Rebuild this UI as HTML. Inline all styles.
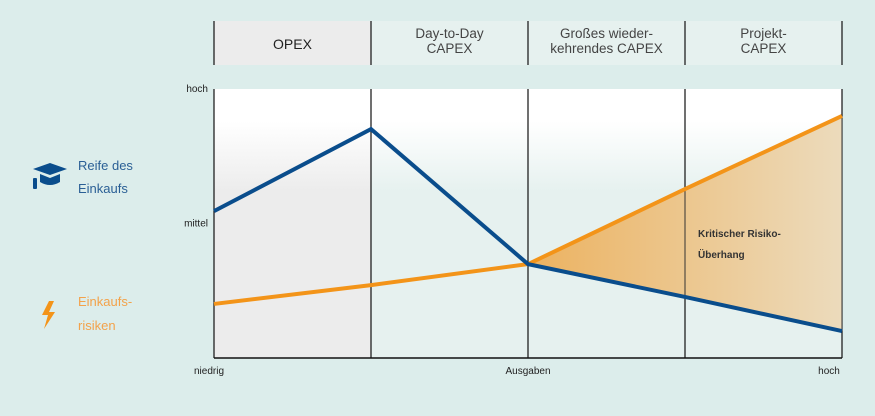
<!DOCTYPE html>
<html><head><meta charset="utf-8"><style>
html,body{margin:0;padding:0;background:#dcedeb;}
body{width:875px;height:411px;overflow:hidden;font-family:"Liberation Sans",sans-serif;}
</style></head><body>
<svg id="c" width="875" height="411" xmlns="http://www.w3.org/2000/svg">
<defs>
<linearGradient id="gw" x1="0" y1="0" x2="0" y2="1"><stop offset="0" stop-color="#fff"/><stop offset="0.12" stop-color="#fff"/><stop offset="0.38" stop-color="#e6f1ef"/><stop offset="1" stop-color="#e6f1ef"/></linearGradient>
<linearGradient id="gg" x1="0" y1="0" x2="0" y2="1"><stop offset="0" stop-color="#fff"/><stop offset="0.12" stop-color="#fff"/><stop offset="0.38" stop-color="#ececec"/><stop offset="1" stop-color="#ececec"/></linearGradient>
<linearGradient id="go" x1="0" y1="0" x2="1" y2="0"><stop offset="0" stop-color="#ecb260"/><stop offset="1" stop-color="#ecdbbc"/></linearGradient>
</defs>
<g id="frame"></g>
<g id="marks"></g>
<g>
<g fill="#0a4d8c">
<polygon points="33,169 50,163 67,169 50,175"/>
<path d="M40,174 L40,182 Q50,188 60,182 L60,174 L50,178 Z"/>
<rect x="33" y="178" width="4" height="11" rx="1"/>
</g>
<text x="78" y="170" font-size="13" fill="#2a5f95">Reife des</text>
<text x="78" y="193" font-size="13" fill="#2a5f95">Einkaufs</text>
<polygon fill="#f39419" points="49,301 42,315 48,315 44,329 55,312 49,312 54,301"/>
<text x="78" y="306" font-size="13" fill="#f3a24a">Einkaufs-</text>
<text x="78" y="330" font-size="13" fill="#f3a24a">risiken</text>
</g>
</svg>
<script>
const categories=["OPEX","Day-to-Day CAPEX","Großes wieder-kehrendes CAPEX","Projekt-CAPEX"];
const headerLines=[["OPEX"],["Day-to-Day","CAPEX"],["Großes wieder-","kehrendes CAPEX"],["Projekt-","CAPEX"]];
const maturity=[54.6,85.1,34.9,22.7,10];
const risk=[20.1,27.1,34.9,62.8,90];
const yTicks=[{v:100,t:"hoch"},{v:50,t:"mittel"}];
const xTicks=[{i:0,t:"niedrig"},{i:2,t:"Ausgaben"},{i:4,t:"hoch"}];
const NS="http://www.w3.org/2000/svg";
const x0=214,x1=842,yT=89,yB=358;
const xs=i=>x0+(x1-x0)*i/(maturity.length-1);
const ys=v=>yB-(yB-yT)*v/100;
function mk(tag,attrs,parent,text){const e=document.createElementNS(NS,tag);for(const k in attrs)e.setAttribute(k,attrs[k]);if(text!==undefined)e.textContent=text;parent.appendChild(e);return e;}
const fr=document.getElementById('frame'),mg=document.getElementById('marks');
categories.forEach((c,i)=>{
 const a=xs(i),b=xs(i+1);
 let h=mk('rect',{x:a,y:21,width:b-a,height:44,fill:i==0?'#ececec':'#e6f1ef'},fr);
 
 let r=mk('rect',{x:a,y:yT,width:b-a,height:yB-yT,fill:i==0?'url(#gg)':'url(#gw)'},fr);
 
 const L=headerLines[i];
 L.forEach((ln,j)=>{
  let t=mk('text',{x:(a+b)/2,y:L.length==1?49:38+j*15,'text-anchor':'middle','font-size':L.length==1?14:13.5,fill:i==0?'#222':'#444'},fr,ln);
  
 });
});
for(let i=0;i<=categories.length;i++){
 let l=mk('line',{x1:xs(i),x2:xs(i),y1:21,y2:65,stroke:'#111','stroke-width':1.2},fr);
 
 let g=mk('line',{x1:xs(i),x2:xs(i),y1:yT,y2:yB,stroke:'#111','stroke-width':1.2},fr);
 
}
let ax=mk('line',{x1:x0,x2:x1,y1:yB,y2:yB,stroke:'#111','stroke-width':1.4},fr);

yTicks.forEach(t=>{let e=mk('text',{x:208,y:ys(t.v)+3,'text-anchor':'end','font-size':10,fill:'#222'},fr,t.t);
 });
xTicks.forEach((t,k)=>{let e=mk('text',{x:xs(t.i)+(k==0?-5:k==2?-13:0),y:374,'text-anchor':k==0?'middle':'middle','font-size':10,fill:'#222'},fr,t.t);
 });
// fill area where risk > maturity
let pts=[];for(let i=2;i<risk.length;i++)pts.push(xs(i)+','+ys(risk[i]));
for(let i=maturity.length-1;i>=2;i--)pts.push(xs(i)+','+ys(maturity[i]));
let area=mk('polygon',{points:pts.join(' '),fill:'url(#go)'},mg);

for(let i=3;i<maturity.length;i++){let l=mk('line',{x1:xs(i),x2:xs(i),y1:ys(risk[i]),y2:ys(maturity[i]),stroke:'#333','stroke-width':1},mg);
 }
let po=mk('polyline',{points:risk.map((v,i)=>xs(i)+','+ys(v)).join(' '),fill:'none',stroke:'#f39419','stroke-width':4,'stroke-linejoin':'miter'},mg);

let pb=mk('polyline',{points:maturity.map((v,i)=>xs(i)+','+ys(v)).join(' '),fill:'none',stroke:'#0a4d8c','stroke-width':4,'stroke-linejoin':'miter'},mg);

let a1=mk('text',{x:698,y:237,'font-size':10,'font-weight':'bold',fill:'#333'},mg,'Kritischer Risiko-');

let a2=mk('text',{x:698,y:258,'font-size':10,'font-weight':'bold',fill:'#333'},mg,'Überhang');

</script>
</body></html>
